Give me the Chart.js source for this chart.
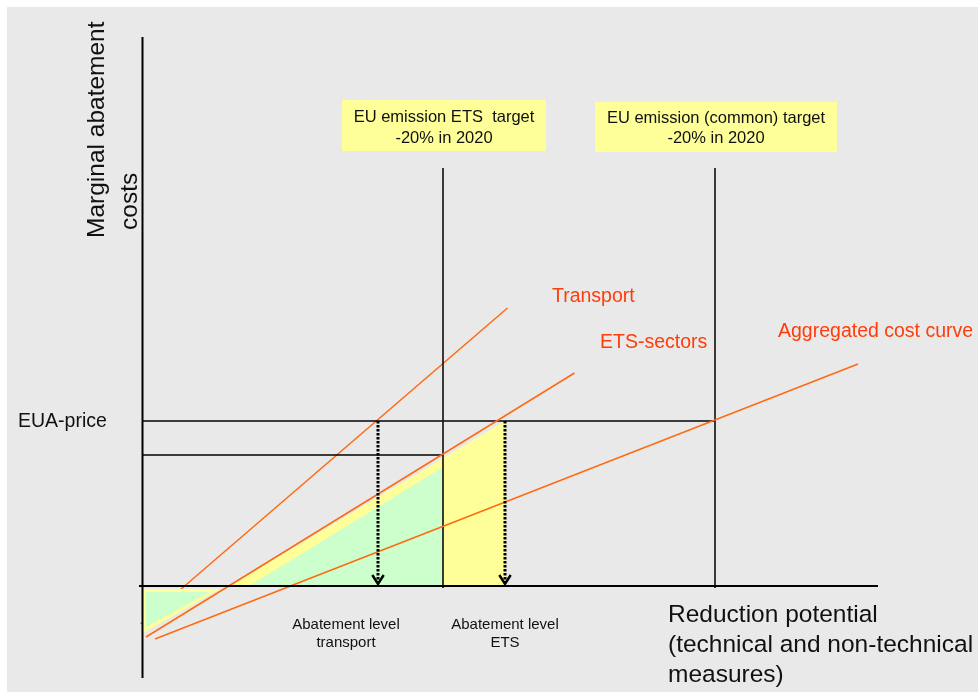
<!DOCTYPE html>
<html>
<head>
<meta charset="utf-8">
<script src="https://cdn.jsdelivr.net/npm/chart.js@4.4.1/dist/chart.umd.min.js"></script>
<style>
  html, body { margin: 0; padding: 0; background: #ffffff; }
  canvas { display: block; }
</style>
</head>
<body>
<canvas id="chart" width="978" height="692"></canvas>
<script>
// Marginal abatement cost curves, each a straight line given by two end points
// (x = reduction potential, y = marginal abatement cost, arbitrary units)
const transportCurve  = [{ x: -0.2, y: -3.8 }, { x: 36.5, y: 27.8 }];
const etsCurve        = [{ x: 0.35, y: -5.1 }, { x: 43.2, y: 21.3 }];
const aggregatedCurve = [{ x: 1.25, y: -5.3 }, { x: 71.55, y: 22.2 }];

// Price levels
const euaPrice      = 16.5;
const etsPriceLevel = 13.1;

// Reduction targets and resulting abatement levels
const etsTarget          = 30.05;
const commonTarget       = 57.25;
const abatementTransport = 23.55;
const abatementEts       = 36.25;

// Shaded cost areas
const yellowArea    = [{ x: 8.75, y: 0 }, { x: abatementEts, y: euaPrice }, { x: abatementEts, y: 0 }];
const greenArea     = [{ x: 10.65, y: 0 }, { x: etsTarget, y: 11.9 }, { x: etsTarget, y: 0 }];
const yellowNegArea = [{ x: 0.05, y: -0.3 }, { x: 7.75, y: -0.3 }, { x: 0.05, y: -4.7 }];
const greenNegArea  = [{ x: 0.35, y: -0.6 }, { x: 6.75, y: -0.6 }, { x: 0.35, y: -4.1 }];

// Extents of the drawn axes and target lines
const xAxisExtent   = [-0.35, 73.55];
const yAxisExtent   = [-9.2, 54.9];
const targetLineTop = 41.8;

// Texts
const curveLabels     = ['Transport', 'ETS-sectors', 'Aggregated cost curve'];
const targetLabels    = [['EU emission ETS  target', '-20% in 2020'], ['EU emission (common) target', '-20% in 2020']];
const abatementLabels = [['Abatement level', 'transport'], ['Abatement level', 'ETS']];
const yTitle          = ['Marginal abatement', 'costs'];
const xTitle          = ['Reduction potential', '(technical and non-technical', 'measures)'];
const priceLabel      = 'EUA-price';

const FONT   = "'Liberation Sans', Arial, Helvetica, sans-serif";
const ORANGE = '#ff6a10';
const LABEL_ORANGE = '#ff3c0a';

function seg(x1, y1, x2, y2) { return [{ x: x1, y: y1 }, { x: x2, y: y2 }]; }

function lineDs(data, color, width, order, dash) {
  return {
    data, order,
    borderColor: color, borderWidth: width, borderDash: dash || [],
    pointRadius: 0, fill: false, tension: 0, borderCapStyle: 'butt'
  };
}
function areaDs(data, color, order) {
  return {
    data, order,
    borderWidth: 0, borderColor: 'rgba(0,0,0,0)', backgroundColor: color,
    pointRadius: 0, fill: 'shape', tension: 0
  };
}
function arrowHead(x, tipY) {
  return [{ x: x - 0.57, y: tipY + 0.9 }, { x: x, y: tipY }, { x: x + 0.57, y: tipY + 0.9 }];
}

const tipY = 0.2;

const datasets = [
  // lower order values are drawn on top
  lineDs(transportCurve, ORANGE, 1.5, 20),
  areaDs(yellowArea, '#ffff99', 19),
  areaDs(greenArea, '#ccffcc', 18),
  areaDs(yellowNegArea, '#ffff99', 17),
  areaDs(greenNegArea, '#ccffcc', 16),
  lineDs(seg(0, euaPrice, commonTarget, euaPrice), '#000000', 1.4, 10),
  lineDs(seg(0, etsPriceLevel, etsTarget, etsPriceLevel), '#000000', 1.4, 10),
  lineDs(seg(etsTarget, -0.2, etsTarget, targetLineTop), '#1a1a1a', 1.7, 9),
  lineDs(seg(commonTarget, -0.2, commonTarget, targetLineTop), '#1a1a1a', 1.7, 9),
  lineDs(etsCurve, ORANGE, 1.5, 8),
  lineDs(aggregatedCurve, ORANGE, 1.5, 8),
  lineDs(seg(abatementTransport, euaPrice, abatementTransport, tipY + 0.1), '#000000', 3, 5, [2.5, 1.5]),
  lineDs(seg(abatementEts, euaPrice, abatementEts, tipY + 0.1), '#000000', 3, 5, [2.5, 1.5]),
  lineDs(arrowHead(abatementTransport, tipY), '#000000', 2.5, 4),
  lineDs(arrowHead(abatementEts, tipY), '#000000', 2.5, 4),
  lineDs(seg(xAxisExtent[0], 0, xAxisExtent[1], 0), '#000000', 2, 2),
  lineDs(seg(0, yAxisExtent[0], 0, yAxisExtent[1]), '#000000', 2, 2)
];

const backgroundPlugin = {
  id: 'pageBackground',
  beforeDraw(chart) {
    const c = chart.ctx;
    c.save();
    c.fillStyle = '#ffffff';
    c.fillRect(0, 0, chart.width, chart.height);
    c.fillStyle = '#e9e9e9';
    c.fillRect(7, 7, chart.width - 7, chart.height - 7);
    c.restore();
  }
};

const textPlugin = {
  id: 'diagramTexts',
  afterDatasetsDraw(chart) {
    const c = chart.ctx;
    const xs = chart.scales.x;
    c.save();
    c.textBaseline = 'alphabetic';

    // Target boxes centred on their vertical lines
    const boxes = [
      { x: xs.getPixelForValue(etsTarget), w: 204, top: 100, h: 51, lines: targetLabels[0], base: [122.3, 142.7] },
      { x: xs.getPixelForValue(commonTarget), w: 242, top: 102, h: 50, lines: targetLabels[1], base: [123.3, 143.2] }
    ];
    boxes.forEach(b => {
      c.fillStyle = '#ffff99';
      c.fillRect(b.x - b.w / 2 + 1, b.top, b.w, b.h);
      c.fillStyle = '#111111';
      c.font = '16.5px ' + FONT;
      c.textAlign = 'center';
      b.lines.forEach((t, i) => c.fillText(t, b.x + 1, b.base[i]));
    });

    // Curve labels
    c.fillStyle = LABEL_ORANGE;
    c.font = '19.5px ' + FONT;
    c.textAlign = 'left';
    c.fillText(curveLabels[0], 552, 302);
    c.fillText(curveLabels[1], 600, 348);
    c.fillText(curveLabels[2], 778, 337);

    // Price label
    c.fillStyle = '#111111';
    c.fillText(priceLabel, 18, 426.5);

    // Abatement level labels
    c.font = '15px ' + FONT;
    c.textAlign = 'center';
    [[346, abatementLabels[0]], [505, abatementLabels[1]]].forEach(([cx, lines]) => {
      c.fillText(lines[0], cx, 628.5);
      c.fillText(lines[1], cx, 646.5);
    });

    // Axis titles
    c.font = '24.5px ' + FONT;
    c.textAlign = 'left';
    xTitle.forEach((t, i) => c.fillText(t, 668, 622 + i * 30));

    [[103.5, 238, yTitle[0]], [137, 230, yTitle[1]]].forEach(([px, py, t]) => {
      c.save();
      c.translate(px, py);
      c.rotate(-Math.PI / 2);
      c.fillText(t, 0, 0);
      c.restore();
    });
    c.restore();
  }
};

new Chart(document.getElementById('chart'), {
  type: 'line',
  data: { datasets },
  options: {
    responsive: false,
    animation: false,
    devicePixelRatio: 1,
    layout: { padding: 0 },
    plugins: { legend: { display: false }, tooltip: { enabled: false } },
    events: [],
    scales: {
      x: { type: 'linear', display: false, min: -14.25, max: 83.55 },
      y: { type: 'linear', display: false, min: -10.6, max: 58.6 }
    }
  },
  plugins: [backgroundPlugin, textPlugin]
});
</script>
</body>
</html>
